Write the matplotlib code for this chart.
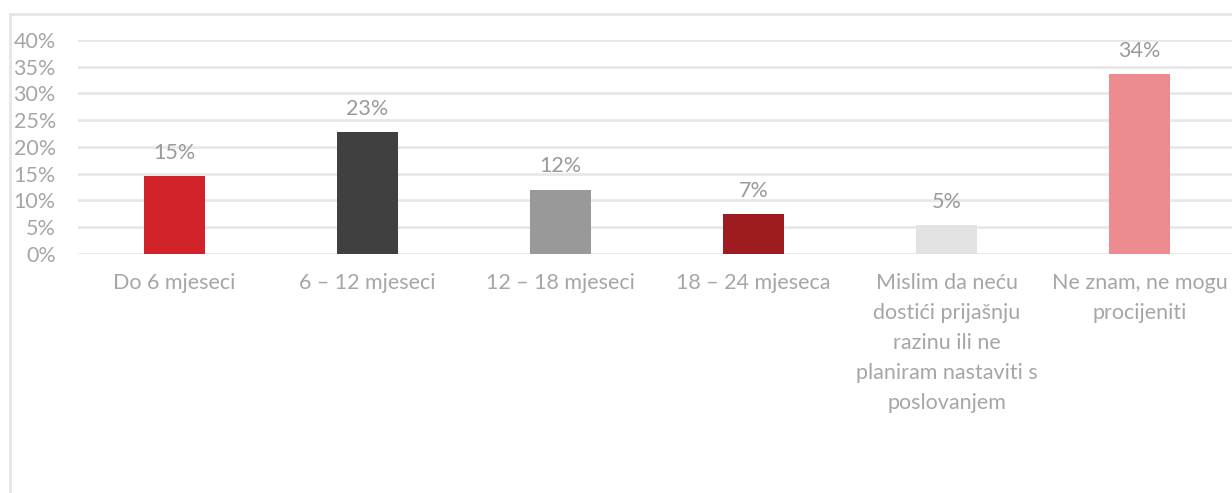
import matplotlib
matplotlib.use("Agg")
import matplotlib.pyplot as plt
from matplotlib.patches import Rectangle

categories = ["Do 6 mjeseci", "6 – 12 mjeseci", "12 – 18 mjeseci", "18 – 24 mjeseca",
              "Mislim da neću\ndostići prijašnju\nrazinu ili ne\nplaniram nastaviti s\nposlovanjem",
              "Ne znam, ne mogu\nprocijeniti"]
values = [0.146, 0.228, 0.120, 0.074, 0.054, 0.336]
data_labels = ["15%", "23%", "12%", "7%", "5%", "34%"]
colors = ["#d2232a", "#404040", "#999999", "#9e1b20", "#e3e3e3", "#ec8c91"]
yticks = [0, 0.05, 0.10, 0.15, 0.20, 0.25, 0.30, 0.35, 0.40]
ytick_labels = ["0%", "5%", "10%", "15%", "20%", "25%", "30%", "35%", "40%"]

W, H = 1232, 493
fig = plt.figure(figsize=(W / 100, H / 100), dpi=100)
plt.rcParams['font.family'] = ['Lato', 'DejaVu Sans']

# chart border
fig.patches.append(Rectangle((10 / W, -0.1), 1.2, (H - 14) / H + 0.1,
                             transform=fig.transFigure, fill=False,
                             edgecolor="#e6e6e6", linewidth=2))

left, right = 78, 1236
bottom, top = 254, 40
ax = fig.add_axes([left / W, 1 - bottom / H, (right - left) / W, (bottom - top) / H])
ax.set_facecolor("none")

x = list(range(len(categories)))
ax.bar(x, values, width=61 / 193, color=colors, zorder=3)
ax.set_xlim(-0.5, len(categories) - 0.5)
ax.set_ylim(0, 0.40)

for xi, v, lab in zip(x, values, data_labels):
    ax.annotate(lab, (xi, v), xytext=(0, 12.5), textcoords="offset points",
                ha="center", va="baseline", fontsize=15.5, color="#9a9a9a")

ax.set_yticks(yticks)
ax.set_yticklabels(ytick_labels)
ax.set_xticks(x)
ax.set_xticklabels(categories, linespacing=1.62)
ax.yaxis.grid(True, color="#e8e8e8", linewidth=2, zorder=0)
ax.set_axisbelow(True)
for s in ax.spines.values():
    s.set_visible(False)
ax.tick_params(axis="y", length=0, pad=16, labelsize=15.5, labelcolor="#a6a6a6")
ax.tick_params(axis="x", length=0, pad=14, labelsize=15.5, labelcolor="#a6a6a6")
for t in ax.get_xticklabels():
    t.set_verticalalignment("top")

fig.savefig("out.png", dpi=100, facecolor="white")
